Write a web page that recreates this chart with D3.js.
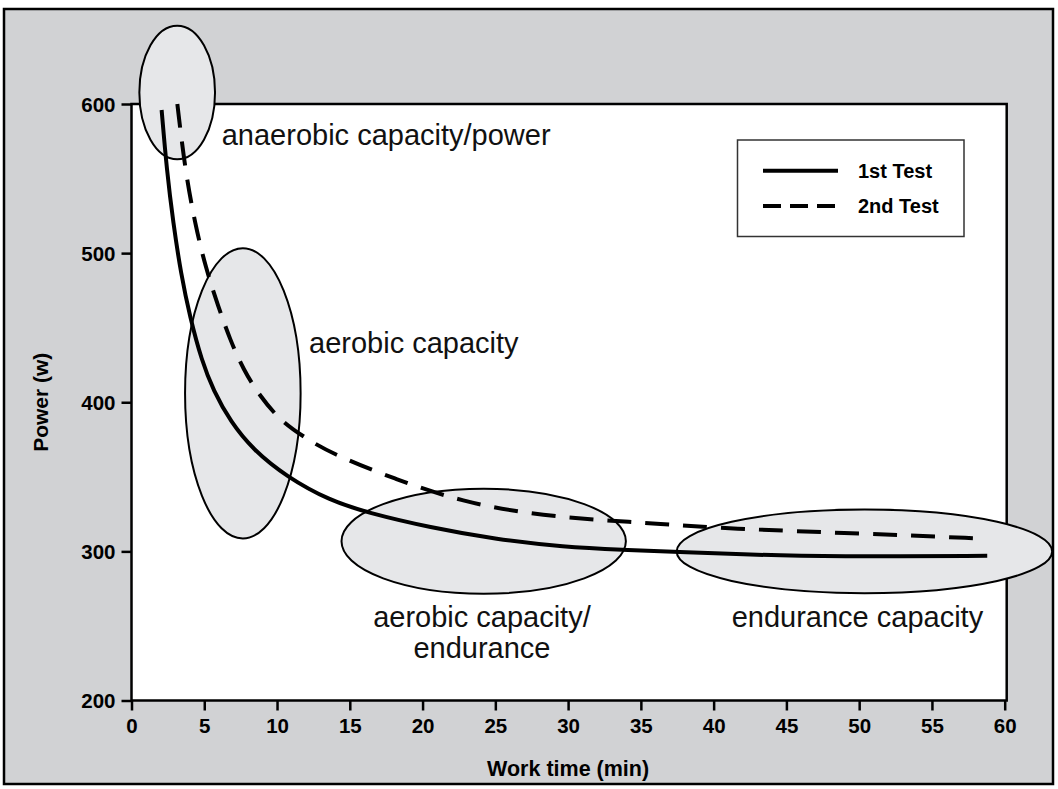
<!DOCTYPE html>
<html>
<head>
<meta charset="utf-8">
<script src="https://cdn.jsdelivr.net/npm/d3@7"></script>
<style>
  body { margin: 0; background: #fff; }
  text { font-family: "Liberation Sans", Arial, Helvetica, sans-serif; }
</style>
</head>
<body>
<svg id="chart"></svg>
<script>
// power vs work time, two tests

var test1Time  = [2.07, 2.42, 2.87, 3.4, 4.02, 4.82, 5.62, 6.8, 8.37, 10.66, 13.64, 16.2, 20.5, 25.1, 29.7, 33.8, 37.5, 45, 50.1, 58.8];
var test1Power = [596, 556, 520, 486, 457, 428, 408, 387, 368, 350, 334, 326, 316, 308, 303, 301, 299.5, 297, 296.5, 297];

var test2Time  = [3.15, 3.68, 4.36, 5.1, 5.97, 6.77, 7.68, 8.83, 10.2, 11.8, 13.64, 18.2, 22.8, 27.4, 32, 36.3, 40.9, 50.1, 58.7];
var test2Power = [600, 556, 520, 490, 464, 442, 422, 404, 388, 377, 366, 348, 333, 325, 321, 318.6, 315.2, 312, 308.5];

var seriesNames = ["1st Test", "2nd Test"];

var xTicks = [0, 5, 10, 15, 20, 25, 30, 35, 40, 45, 50, 55, 60];
var yTicks = [200, 300, 400, 500, 600];

// capacity zones (centre and half-widths in data units)
var zoneLabels  = [["anaerobic capacity/power"], ["aerobic capacity"], ["aerobic capacity/", "endurance"], ["endurance capacity"]];
var zoneCenterT = [3.14, 7.65, 24.2, 50.36];
var zoneCenterP = [607.7, 406, 306.8, 300];
var zoneRadT    = [2.6, 3.97, 9.77, 12.9];
var zoneRadP    = [44.8, 97.3, 35.2, 28];
var labelT      = [6.2, 12.2, 24.08, 41.24];
var labelP      = [572.5, 432.8, 249.4, 249.4];
var labelAnchor = ["start", "start", "middle", "start"];

var width = 1058, height = 789;

var svg = d3.select("#chart")
    .attr("width", width)
    .attr("height", height);

var x = d3.scaleLinear().domain([0, 60]).range([131.5, 1004.7]);
var y = d3.scaleLinear().domain([200, 600]).range([700.5, 104]);

// outer panel
svg.append("rect")
    .attr("x", 4).attr("y", 9)
    .attr("width", 1049).attr("height", 775)
    .attr("fill", "#d1d2d4")
    .attr("stroke", "#000")
    .attr("stroke-width", 2.5);

// plot area
svg.append("rect")
    .attr("x", x(0)).attr("y", y(600))
    .attr("width", x(60) + 2 - x(0))
    .attr("height", y(200) - y(600))
    .attr("fill", "#fff")
    .attr("stroke", "#000")
    .attr("stroke-width", 2.5);

var yAxis = svg.append("g")
    .attr("transform", "translate(" + x(0) + ",0)")
    .call(d3.axisLeft(y).tickValues(yTicks).tickSize(10).tickPadding(6));

var xAxis = svg.append("g")
    .attr("transform", "translate(0," + y(200) + ")")
    .call(d3.axisBottom(x).tickValues(xTicks).tickSize(10).tickPadding(8));

svg.selectAll(".domain").remove();
svg.selectAll(".tick line").attr("stroke", "#000").attr("stroke-width", 2.5);
svg.selectAll(".tick text")
    .attr("fill", "#000")
    .style("font-size", "20.5px")
    .style("font-weight", "bold")
    .style("font-family", "'Liberation Sans', Arial, sans-serif");
yAxis.selectAll(".tick text").attr("dy", "0.36em");

// axis titles
svg.append("text")
    .attr("x", (x(0) + x(60)) / 2)
    .attr("y", 776)
    .attr("text-anchor", "middle")
    .style("font-size", "21.5px")
    .style("font-weight", "bold")
    .text("Work time (min)");

svg.append("text")
    .attr("transform", "translate(48," + y(400) + ") rotate(-90)")
    .attr("text-anchor", "middle")
    .style("font-size", "21px")
    .style("font-weight", "bold")
    .text("Power (w)");

// zone ellipses
svg.selectAll("ellipse.zone")
    .data(zoneCenterT)
    .enter()
    .append("ellipse")
    .attr("class", "zone")
    .attr("cx", function(d) { return x(d); })
    .attr("cy", function(d, i) { return y(zoneCenterP[i]); })
    .attr("rx", function(d, i) { return x(zoneRadT[i]) - x(0); })
    .attr("ry", function(d, i) { return y(200) - y(200 + zoneRadP[i]); })
    .attr("fill", "#e6e7e9")
    .attr("stroke", "#000")
    .attr("stroke-width", 2);

// curves
var line = d3.line()
    .x(function(d) { return x(d[0]); })
    .y(function(d) { return y(d[1]); })
    .curve(d3.curveBasis);

var test1 = test1Time.map(function(t, i) { return [t, test1Power[i]]; });
var test2 = test2Time.map(function(t, i) { return [t, test2Power[i]]; });

svg.append("path")
    .datum(test1)
    .attr("d", line)
    .attr("fill", "none")
    .attr("stroke", "#000")
    .attr("stroke-width", 4);

svg.append("path")
    .datum(test2)
    .attr("d", line)
    .attr("fill", "none")
    .attr("stroke", "#000")
    .attr("stroke-width", 4)
    .attr("stroke-dasharray", "24,14");

// zone labels
zoneLabels.forEach(function(lines, i) {
    var t = svg.append("text")
        .attr("x", x(labelT[i]))
        .attr("y", y(labelP[i]))
        .attr("text-anchor", labelAnchor[i])
        .attr("fill", "#111")
        .style("font-size", "29px");
    lines.forEach(function(s, j) {
        t.append("tspan")
            .attr("x", x(labelT[i]))
            .attr("dy", j === 0 ? 0 : 31.6)
            .text(s);
    });
});

// legend
var legend = svg.append("g");
legend.append("rect")
    .attr("x", 737.5).attr("y", 140)
    .attr("width", 226.5).attr("height", 96.5)
    .attr("fill", "#fff")
    .attr("stroke", "#333")
    .attr("stroke-width", 1.5);

var legendRows = legend.selectAll("g.row")
    .data(seriesNames)
    .enter()
    .append("g")
    .attr("class", "row")
    .attr("transform", function(d, i) { return "translate(0," + (170.7 + i * 35.3) + ")"; });

legendRows.append("line")
    .attr("x1", 763).attr("x2", 838)
    .attr("stroke", "#000")
    .attr("stroke-width", 4)
    .attr("stroke-dasharray", function(d, i) { return i === 0 ? null : "18,9"; });

legendRows.append("text")
    .attr("x", 858)
    .attr("y", 7)
    .style("font-size", "20px")
    .style("font-weight", "bold")
    .text(function(d) { return d; });
</script>
</body>
</html>
